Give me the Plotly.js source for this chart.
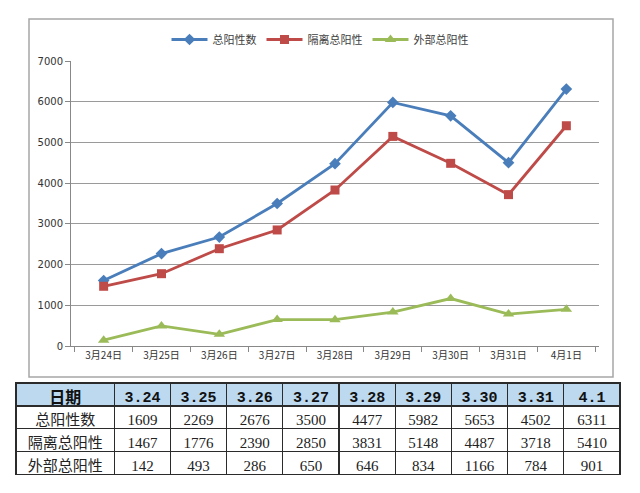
<!DOCTYPE html>
<html><head><meta charset="utf-8">
<script src="https://cdn.plot.ly/plotly-3.0.1.min.js"></script>
<style>html,body{margin:0;padding:0;background:#fff;}</style>
</head><body><div id="chart" style="width:640px;height:493px;"></div>
<script>
const dateTicks = ["3月24日","3月25日","3月26日","3月27日","3月28日","3月29日","3月30日","3月31日","4月1日"];
const tableDates = ["3.24","3.25","3.26","3.27","3.28","3.29","3.30","3.31","4.1"];
const seriesNames = ["总阳性数","隔离总阳性","外部总阳性"];
const totalPos = [1609,2269,2676,3500,4477,5982,5653,4502,6311];
const isoPos = [1467,1776,2390,2850,3831,5148,4487,3718,5410];
const extPos = [142,493,286,650,646,834,1166,784,901];
const headerLabel = "日期";

const W = 640, H = 493;
const px = x => x / W, py = y => 1 - y / H;

const colors = ["#4a7ebb","#be4b48","#9bbb59"];
const symbols = ["diamond","square","triangle-up"];
const msizes = [9,9,10];
const allSeries = [totalPos, isoPos, extPos];

const traces = allSeries.map((vals, i) => ({
  type: "scatter", mode: "lines+markers",
  x: dateTicks, y: vals, name: seriesNames[i],
  line: {color: colors[i], width: 2.8},
  marker: {symbol: symbols[i], size: msizes[i], color: colors[i]},
  xaxis: "x", yaxis: "y"
}));

const monoFont = "Liberation Mono, Noto Sans CJK SC";
const serifFont = "Liberation Serif, Noto Sans CJK SC";
const nCols = dateTicks.length;
const cellCols = [seriesNames].concat(totalPos.map((_, i) => [totalPos[i], isoPos[i], extPos[i]]));

traces.push({
  type: "table",
  domain: {x: [px(16), px(620)], y: [py(476), py(383)]},
  columnwidth: [98].concat(Array(nCols).fill(56)),
  header: {
    values: [headerLabel].concat(tableDates),
    align: "center", height: 23,
    fill: {color: "#bcd9ef"},
    line: {color: "#2b2b2b", width: 1.2},
    font: {family: ["Noto Sans CJK SC"].concat(Array(nCols).fill(monoFont)), size: [16].concat(Array(nCols).fill(15)), color: "#111", weight: "bold"}
  },
  cells: {
    values: cellCols,
    align: "center", height: 22.7,
    fill: {color: "#ffffff"},
    line: {color: "#2b2b2b", width: 1.2},
    font: {family: ["Noto Sans CJK SC"].concat(Array(nCols).fill(serifFont)), size: [15].concat(Array(nCols).fill(15)), color: "#222"}
  }
});

const layout = {
  width: W, height: H,
  margin: {l: 0, r: 0, t: 0, b: 0},
  paper_bgcolor: "#fff", plot_bgcolor: "#fff",
  showlegend: true,
  legend: {orientation: "h", x: 0.5, xanchor: "center", y: py(25), yanchor: "top",
           font: {family: "Noto Sans CJK SC", size: 11, color: "#404040"}, itemwidth: 36, tracegroupgap: 0},
  xaxis: {domain: [px(71), px(599)], type: "category", tickson: "boundaries",
          ticks: "outside", ticklen: 5, tickcolor: "#888", showline: true, linecolor: "#888", linewidth: 1,
          showgrid: false, tickfont: {family: "Noto Sans CJK SC", size: 10, color: "#333"}, fixedrange: true},
  yaxis: {domain: [py(346), py(61)], range: [0, 7000], dtick: 1000, ticks: "outside", ticklen: 5, tickcolor: "#888",
          showline: true, linecolor: "#888", linewidth: 1, gridcolor: "#9a9a9a", gridwidth: 1.2, zeroline: false,
          tickfont: {family: "DejaVu Sans, Noto Sans", size: 10, color: "#333"}, fixedrange: true},
  shapes: [{type: "rect", xref: "paper", yref: "paper", x0: px(29), x1: px(613), y0: py(377), y1: py(19),
            line: {color: "#a6a6a6", width: 1.5}, fillcolor: "rgba(0,0,0,0)", layer: "below"}]
};

Plotly.newPlot("chart", traces, layout, {displayModeBar: false, staticPlot: true});
</script></body></html>
